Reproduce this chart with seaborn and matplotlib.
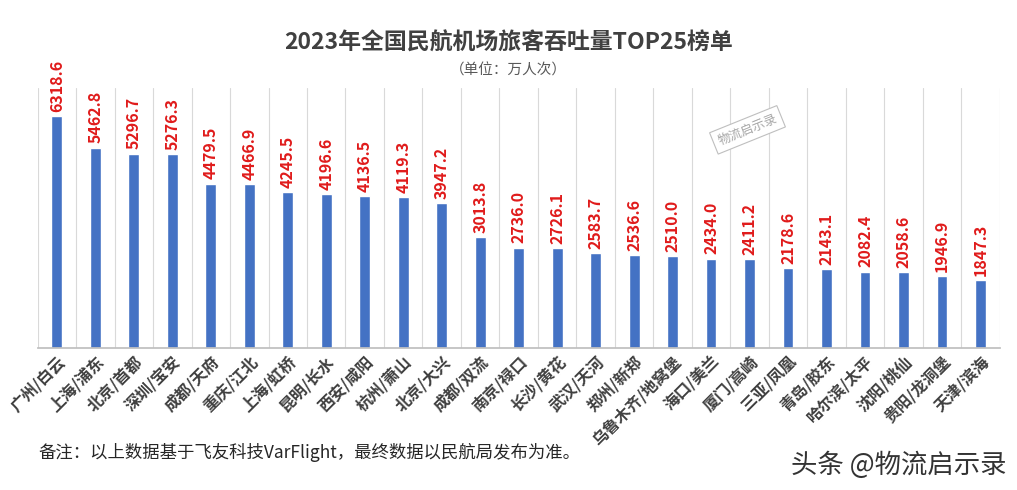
import numpy as np
import pandas as pd
import matplotlib.pyplot as plt
import seaborn as sns

airports = ['广州/白云', '上海/浦东', '北京/首都', '深圳/宝安', '成都/天府', '重庆/江北',
            '上海/虹桥', '昆明/长水', '西安/咸阳', '杭州/萧山', '北京/大兴', '成都/双流',
            '南京/禄口', '长沙/黄花', '武汉/天河', '郑州/新郑', '乌鲁木齐/地窝堡', '海口/美兰',
            '厦门/高崎', '三亚/凤凰', '青岛/胶东', '哈尔滨/太平', '沈阳/桃仙', '贵阳/龙洞堡',
            '天津/滨海']
passengers = [6318.6, 5462.8, 5296.7, 5276.3, 4479.5, 4466.9, 4245.5, 4196.6, 4136.5,
              4119.3, 3947.2, 3013.8, 2736.0, 2726.1, 2583.7, 2536.6, 2510.0, 2434.0,
              2411.2, 2178.6, 2143.1, 2082.4, 2058.6, 1946.9, 1847.3]

df = pd.DataFrame({'机场': airports, '旅客吞吐量': passengers})

sns.set_theme(style="white")
plt.rcParams['font.family'] = ['Noto Sans CJK SC', 'DejaVu Sans']

fig = plt.figure(figsize=(10.17, 4.9), dpi=100)
ax = fig.add_axes([0.037, 0.29, 0.946, 0.53])

sns.barplot(x='机场', y='旅客吞吐量', data=df, color='#4472C4', width=0.28,
            saturation=1, ax=ax)

ax.set_ylim(0, 7080)
ax.set_xlim(-0.5, len(airports) - 0.5)
ax.set_yticks([])
ax.set_xlabel('')
ax.set_ylabel('')

# 类别之间的竖向网格线
ax.set_xticks(np.arange(-0.5, len(airports), 1.0), minor=True)
ax.grid(which='minor', axis='x', color='#d9d9d9', linewidth=0.8)
ax.tick_params(which='both', length=0)
for s in ['top', 'right', 'left']:
    ax.spines[s].set_visible(False)
ax.spines['bottom'].set_color('#bfbfbf')

ax.set_xticks(range(len(airports)))
ax.set_xticklabels(airports, rotation=45, ha='right', rotation_mode='anchor',
                   fontsize=11.5, fontweight='bold', color='#404040')

for i, v in enumerate(passengers):
    ax.annotate(f'{v:.1f}', xy=(i, v), xytext=(0, 3), textcoords='offset points',
                rotation=90, ha='center', va='bottom', fontsize=11.5,
                fontweight='bold', color='#e01b1b', annotation_clip=False)

fig.text(0.5, 0.912, '2023年全国民航机场旅客吞吐量TOP25榜单', ha='center', va='center',
         fontsize=16.5, fontweight='bold', color='#404040')
fig.text(0.5, 0.857, '（单位：万人次）', ha='center', va='center', fontsize=10.5, color='#595959')

fig.text(0.038, 0.077, '备注：以上数据基于飞友科技VarFlight，最终数据以民航局发布为准。',
         ha='left', va='center', fontsize=12.5, color='#262626')

# 水印
fig.text(0.735, 0.735, '物流启示录', ha='center', va='center', rotation=22, fontsize=9,
         color='#a6a6a6', bbox=dict(boxstyle='square,pad=0.4', fc='white', ec='#bfbfbf', lw=0.8))
fig.text(0.99, 0.05, '头条 @物流启示录', ha='right', va='center', fontsize=19,
         color='#333333')

plt.savefig('out.png', dpi=100)
